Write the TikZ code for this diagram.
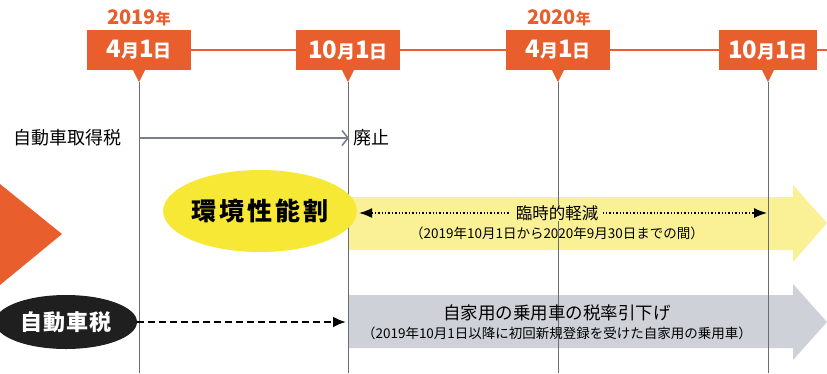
\documentclass[tikz,border=0pt]{standalone}
\usepackage{fontspec}
\setmainfont{Noto Sans CJK JP}
\usetikzlibrary{arrows.meta,shapes.geometric}
\definecolor{dateorange}{RGB}{233,94,45}
\definecolor{bandyellow}{RGB}{250,240,150}
\definecolor{ballyellow}{RGB}{246,232,52}
\definecolor{bandgray}{RGB}{206,210,216}
\definecolor{linegray}{RGB}{105,108,112}
\definecolor{arrowgray}{RGB}{120,128,138}
\newcommand\kj[1]{{\fontsize{18}{18}\selectfont#1}}
\tikzset{
  datebox/.style={fill=dateorange, text=white, inner sep=0pt,
    minimum height=40, font=\bfseries\fontsize{24}{24}\selectfont},
  yearlabel/.style={text=dateorange, inner sep=0pt,
    font=\bfseries\fontsize{20}{20}\selectfont},
  dayline/.style={draw=linegray, line width=0.7pt},
  taxlabel/.style={inner sep=0pt, font=\fontsize{18}{18}\selectfont},
  bandtitle/.style={inner sep=0pt, font=\fontsize{16.5}{16.5}\selectfont},
  bandnote/.style={inner sep=0pt, font=\fontsize{13.5}{13.5}\selectfont},
}
\begin{document}
\begin{tikzpicture}[x=1pt, y=-1pt]
  \useasboundingbox (0,0) rectangle (827,373);
  % bands
  \fill[bandyellow] (348,197) -- (793,197) -- (793,185) -- (827,223)
    -- (793,262) -- (793,250) -- (348,250) -- cycle;
  \fill[bandgray] (348,295) -- (793,295) -- (793,284) -- (827,322)
    -- (793,360) -- (793,348) -- (348,348) -- cycle;
  % left marker
  \fill[dateorange] (0,184) -- (62,234) -- (0,285) -- cycle;
  % dates
  \foreach \x/\w/\d/\n in {139/104/4\kj{月}1\kj{日}/a,
      348/104/10\kj{月}1\kj{日}/b,
      558/104/4\kj{月}1\kj{日}/c,
      768/98/10\kj{月}1\kj{日}/d} {
    \node[datebox, minimum width=\w] (\n) at (\x,50) {\d};
    \fill[dateorange] ([xshift=-6pt]\n.south) -- ([xshift=6pt]\n.south)
      -- ++(-6,12) -- cycle;
    \coordinate (\n top) at (\x,82);
    \coordinate (\n end) at (\x,373);
    \draw[dayline] (\n top) -- (\n end);
  }
  \coordinate (right end) at (827,50);
  \begin{scope}[dateorange, line width=2pt]
    \draw (a.east) -- (b.west);
    \draw (b.east) -- (c.west);
    \draw (c.east) -- (d.west);
    \draw (d.east) -- (right end);
  \end{scope}
  \node[yearlabel] (y1) at (139,18) {2019{\fontsize{15}{15}\selectfont 年}};
  \node[yearlabel] (y2) at (559,18) {2020{\fontsize{15}{15}\selectfont 年}};
  % acquisition tax
  \node[taxlabel, anchor=west] (acq) at (13,138) {自動車取得税};
  \node[taxlabel, anchor=west] (stop) at (353,138) {廃止};
  \coordinate (acq start) at (139,138);
  \draw[arrowgray, line width=1.6pt, -{Straight Barb[length=6pt,width=15pt]}]
    (acq start) -- ([xshift=-4pt]stop.west);
  % environmental performance
  \node[ellipse, fill=ballyellow, minimum width=172, minimum height=82,
    inner sep=0pt, font=\bfseries\fontsize{25}{25}\selectfont]
    (env) at (260,211) {\addfontfeature{LetterSpace=12}環境性能割};
  \coordinate (env end) at (767,213);
  \draw[line width=1.4pt, dotted, {Latex[length=13pt,width=10pt]}-{Latex[length=13pt,width=10pt]}]
    (env.east) ++(2,2) -- (env end);
  \node[bandtitle, fill=bandyellow, inner xsep=5pt] (cut) at (557,213) {臨時的軽減};
  \node[bandnote] (cutnote) at (557,233) {（2019年10月1日から2020年9月30日までの間）};
  % automobile tax
  \node[ellipse, fill=black!88, text=white, minimum width=142, minimum height=54,
    inner sep=0pt, font=\bfseries\fontsize{22}{22}\selectfont]
    (car) at (66,322) {\addfontfeature{LetterSpace=6}自動車税};
  \coordinate (car end) at (346,322);
  \draw[line width=2.4pt, dash pattern=on 7pt off 4pt, -{Latex[length=13pt,width=11pt]}]
    (car.east) -- (car end);
  \node[bandtitle, font=\fontsize{17.5}{17.5}\selectfont] (rate) at (557,313) {自家用の乗用車の税率引下げ};
  \node[bandnote] (ratenote) at (557,333) {（2019年10月1日以降に初回新規登録を受けた自家用の乗用車）};
\end{tikzpicture}
\end{document}
